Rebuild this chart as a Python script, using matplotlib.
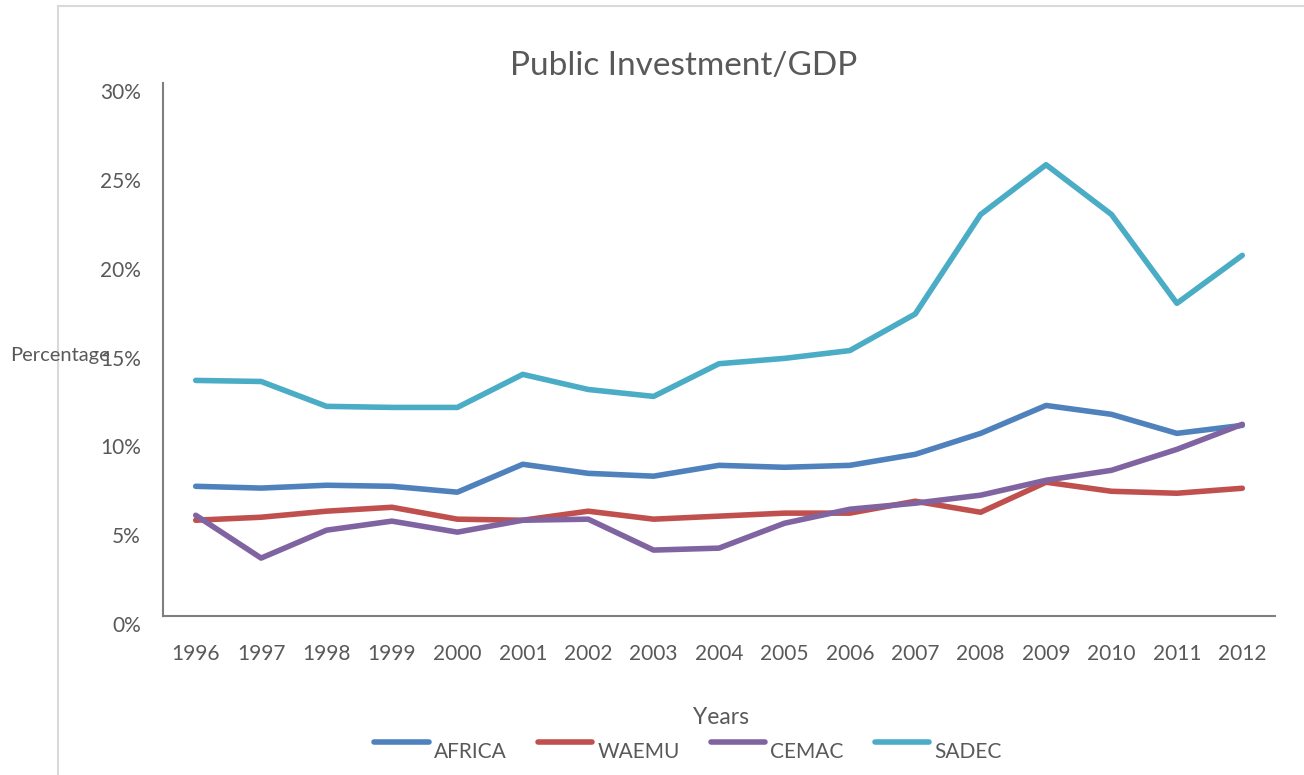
import matplotlib
matplotlib.use("Agg")
import matplotlib.pyplot as plt
from matplotlib.lines import Line2D
from matplotlib.ticker import FuncFormatter
from matplotlib.transforms import ScaledTranslation

plt.rcParams["font.family"] = ["Lato", "DejaVu Sans"]

years = list(range(1996, 2013))

# public investment as % of GDP
africa = [7.3, 7.2, 7.36, 7.3, 6.97, 8.54, 8.03, 7.87, 8.48, 8.37, 8.48, 9.1,
          10.28, 11.85, 11.35, 10.28, 10.73]
waemu = [5.39, 5.56, 5.9, 6.12, 5.45, 5.39, 5.9, 5.45, 5.62, 5.79, 5.79, 6.46,
         5.84, 7.53, 7.02, 6.91, 7.19]
cemac = [5.67, 3.26, 4.83, 5.34, 4.72, 5.39, 5.45, 3.71, 3.82, 5.22, 6.01, 6.35,
         6.8, 7.64, 8.2, 9.38, 10.79]
sadec = [13.26, 13.2, 11.8, 11.74, 11.74, 13.6, 12.75, 12.36, 14.2, 14.5, 14.94,
         17.0, 22.6, 25.4, 22.6, 17.6, 20.3]

series = [("AFRICA", africa, "#4f81bd"),
          ("WAEMU", waemu, "#c0504d"),
          ("CEMAC", cemac, "#8064a2"),
          ("SADEC", sadec, "#4bacc6")]

text_color = "#595959"

fig = plt.figure(figsize=(13.04, 7.75), dpi=100)

# light frame around the chart area
W, H = 1304, 775
fig.add_artist(Line2D([58 / W, 58 / W], [0, 1 - 6 / H], color="#d9d9d9", lw=1.5))
fig.add_artist(Line2D([58 / W, 1], [1 - 6 / H, 1 - 6 / H], color="#d9d9d9", lw=1.5))

ax = fig.add_axes([163 / W, 159 / H, (1275 - 163) / W, (616 - 83) / H])

for name, vals, col in series:
    ax.plot(years, vals, color=col, lw=4, label=name, solid_capstyle="round")

ax.set_xlim(1995.5, 2012.5)
ax.set_ylim(0, 30)
ax.set_xticks(years)
ax.set_yticks(range(0, 31, 5))
ax.yaxis.set_major_formatter(FuncFormatter(lambda v, p: f"{int(v)}%"))
ax.tick_params(length=0, labelsize=15, colors=text_color)
ax.tick_params(axis="x", pad=20)
ax.tick_params(axis="y", pad=16)
# y labels sit slightly below their values
shift = ScaledTranslation(0, -8 / 100, fig.dpi_scale_trans)
for lab in ax.get_yticklabels():
    lab.set_transform(lab.get_transform() + shift)
for s in ("top", "right"):
    ax.spines[s].set_visible(False)
for s in ("left", "bottom"):
    ax.spines[s].set_color("#7f7f7f")
    ax.spines[s].set_linewidth(1.5)

fig.text(684 / W, 1 - 66 / H, "Public Investment/GDP", ha="center", va="center",
         fontsize=24, color=text_color)
fig.text(10 / W, 1 - 356 / H, "Percentage", ha="left", va="center",
         fontsize=14.5, color=text_color)
fig.text(721 / W, 1 - 717 / H, "Years", ha="center", va="center",
         fontsize=16.5, color=text_color)

leg = fig.legend(loc="center", bbox_to_anchor=(688 / W, 1 - 743 / H), ncol=4,
                 frameon=False, fontsize=15, handlelength=2.6, handletextpad=0.25,
                 columnspacing=1.5, labelcolor=text_color)
# legend labels hang a little below their line swatches
for t in leg.get_texts():
    t.set_y(-9)

fig.savefig("out.png", dpi=100, facecolor="white")
